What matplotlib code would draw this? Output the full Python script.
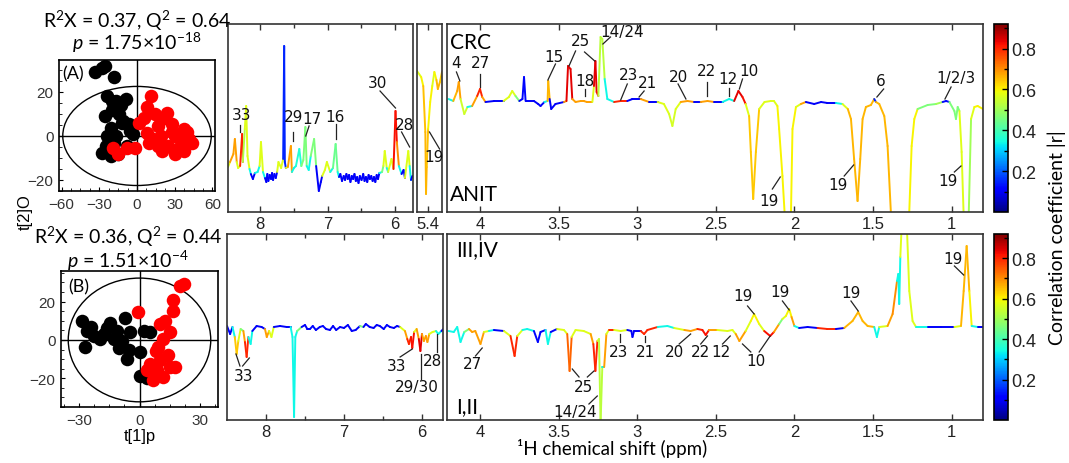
import numpy as np
import matplotlib.pyplot as plt
from matplotlib.collections import LineCollection
from matplotlib.patches import Ellipse
from matplotlib.colors import Normalize
from matplotlib.cm import ScalarMappable
from matplotlib.ticker import FixedLocator, FormatStrFormatter

plt.rcParams['font.family'] = ['Liberation Sans', 'DejaVu Sans']
plt.rcParams['mathtext.fontset'] = 'custom'
plt.rcParams['mathtext.rm'] = 'Lato'
plt.rcParams['mathtext.it'] = 'Lato:italic'

# ---- score plots (OPLS-DA) ----
xa_black = [-33, -28, -25.5, -18, -23.6, -20, -9, -13, -16.7, -25.5, -14, -11, -6, -21, -23.6,
            -16.7, -5.5, -25, -18, -28, -21, -15, -8, -3, -12, -20]
ya_black = [29, 31, 32, 27, 18, 16, 16.7, 14, 16, 9, 10, 7, 5.3, 3.8, 0,
            0, 2.3, -4.5, -3, -7.6, -9, -8.3, -4.5, 0.8, 6, 12]
xa_red = [11, 8.3, 5.5, 1.4, 23.6, 16.7, 27.8, 37.5, 19.4, 30.5, 41.7, 9.7, 16.7, 25, 33,
          -19.4, -15, -8, -1.4, 8.3, 12.5, 30.5, 37.5, 22, 14, 40, 44, 28, 20, 35]
ya_red = [18, 13, 8, 6, 10.6, 4.5, 5.3, 3, 0, 0, -1.5, -3, -4.5, -4.5, -5.3,
          -5.3, -8.3, -5.3, -5.3, 1.5, -1.5, -8.3, -6.8, 8, 10, 2, -3, 2, -7, -2]

xb_black = [-28.5, -26, -22.7, -27, -14.5, -11, -7, -12.8, -8.7, -4.6, -5.4, -6.3, 0.3, -17.8,
            2, 5.3, 0.3, 3.6, -19.4, -24, -16, -10]
yb_black = [10, 4.8, 2.2, -3.8, 9, 4.8, 11.7, 0.5, -0.3, 4, -5.5, -9.8, -6.4, 3.1,
            4.8, 4, -19, -20, 0.5, 7, 6, -4]
xb_red = [-0.5, 20, 22, 16.8, 16.8, 12.7, 10.2, 15, 11.9, 9.4, 10.2, 5.3, 3.6, 8.6, 15, 17.6,
          6.9, 11.9, 14, 8]
yb_red = [14.8, 28.4, 29, 21, 15, 10, 8.3, 4, 0.5, -3.8, -10.7, -12.4, -15.9, -15.9, -14, -14,
          -21, -19.3, -8, -6]

# ---- loading spectra: ppm, intensity (a.u.), |r| ----
ppm_crc_aro = [8.48, 8.45, 8.40, 8.378, 8.35, 8.33, 8.30, 8.27, 8.26, 8.23, 8.21, 8.19, 8.16, 8.14,
               8.11, 8.08, 8.04, 8.01, 7.99, 7.96, 7.93, 7.91, 7.895, 7.88, 7.86, 7.84, 7.825,
               7.81, 7.79, 7.77, 7.75, 7.73, 7.69,
               7.66, 7.645, 7.635, 7.62, 7.59, 7.545, 7.53, 7.50, 7.47, 7.42, 7.39, 7.36, 7.33,
               7.31, 7.28, 7.25, 7.20, 7.17, 7.13, 7.10, 7.08, 7.04, 7.01, 6.96, 6.92, 6.88, 6.85,
               6.83, 6.81, 6.785, 6.76, 6.74, 6.72, 6.70, 6.68, 6.66, 6.64, 6.62, 6.60, 6.58,
               6.56, 6.54, 6.52, 6.495, 6.47, 6.45, 6.43, 6.41, 6.39, 6.37, 6.35, 6.33, 6.31,
               6.29, 6.27, 6.25, 6.23, 6.19, 6.17, 6.15, 6.12, 6.10, 6.05, 6.02, 5.99, 5.97,
               5.94, 5.90, 5.87, 5.85, 5.80, 5.78, 5.76, 5.74]
int_crc_aro = [45, 50, 58, 73, 50, 44, 46, 78, 50, 83, 106, 56, 43, 38,
               33, 39, 40, 46, 70, 40, 34, 30, 38, 31, 37, 33, 39,
               32, 38, 34, 40, 50, 44,
               53, 166, 50, 44, 45, 66, 40, 44, 46, 63, 46, 52, 85,
               46, 42, 56, 73, 46, 21, 30, 36, 42, 50, 40, 44, 68, 40,
               35, 38, 31, 36, 32, 38, 33, 37, 30, 36, 33, 38, 31,
               35, 29, 36, 32, 38, 31, 35, 30, 37, 33, 36, 31, 35,
               30, 37, 33, 39, 40, 46, 61, 44, 40, 53, 43, 101, 70,
               46, 38, 42, 34, 61, 46, 32, 36]
r_crc_aro = [0.57, 0.57, 0.68, 0.68, 0.57, 0.34, 0.57, 0.8, 0.68, 0.52, 0.57, 0.57, 0.34, 0.34,
             0.1, 0.1, 0.34, 0.34, 0.57, 0.34, 0.1, 0.1, 0.1, 0.1, 0.1, 0.1, 0.1,
             0.1, 0.1, 0.1, 0.12, 0.57, 0.34,
             0.57, 0.15, 0.15, 0.34, 0.57, 0.68, 0.34, 0.34, 0.34, 0.36, 0.34, 0.46, 0.46,
             0.34, 0.34, 0.34, 0.46, 0.34, 0.1, 0.1, 0.34, 0.57, 0.57, 0.34, 0.34, 0.44, 0.34,
             0.1, 0.1, 0.1, 0.1, 0.1, 0.1, 0.1, 0.1, 0.1, 0.1, 0.1, 0.1, 0.1,
             0.1, 0.1, 0.1, 0.1, 0.1, 0.1, 0.1, 0.1, 0.1, 0.1, 0.1, 0.1, 0.1,
             0.1, 0.1, 0.1, 0.12, 0.34, 0.46, 0.57, 0.34, 0.1, 0.57, 0.34, 0.82, 0.7,
             0.34, 0.1, 0.1, 0.1, 0.57, 0.34, 0.1, 0.1]

ppm_crc_mid = [5.56, 5.50, 5.47, 5.44, 5.43, 5.42, 5.40, 5.37, 5.34, 5.31, 5.28, 5.26, 5.23, 5.20]
int_crc_mid = [141, 135, 126, 80, 18, 45, 83, 110, 126, 140, 132, 123, 130, 140]
r_crc_mid = [0.57, 0.57, 0.6, 0.65, 0.66, 0.65, 0.6, 0.6, 0.57, 0.57, 0.6, 0.66, 0.64, 0.57]

ppm_crc_ali = [4.20, 4.17, 4.145, 4.135, 4.124, 4.10, 4.08, 4.05, 4.018, 4.00, 3.986, 3.965, 3.91,
               3.85, 3.816, 3.795, 3.774, 3.75, 3.73, 3.72, 3.71, 3.657, 3.63, 3.615, 3.59, 3.57,
               3.566, 3.557, 3.547, 3.52, 3.466, 3.45, 3.44, 3.424, 3.413, 3.392, 3.36, 3.34, 3.32,
               3.285, 3.275, 3.266, 3.258, 3.247, 3.233, 3.222, 3.207, 3.19, 3.147, 3.105, 3.063,
               3.03, 2.978, 2.925, 2.87, 2.83, 2.797, 2.776, 2.755, 2.723, 2.68, 2.638, 2.596,
               2.553, 2.51, 2.457, 2.415, 2.383, 2.356, 2.33, 2.31, 2.288, 2.277, 2.262, 2.245,
               2.224, 2.19, 2.15, 2.13, 2.108, 2.097, 2.076, 2.061, 2.022, 2.012, 1.99, 1.959,
               1.927, 1.874, 1.83, 1.79, 1.736, 1.694, 1.66, 1.64, 1.62, 1.598, 1.581, 1.566,
               1.545, 1.513, 1.492, 1.481, 1.46, 1.428, 1.407, 1.385, 1.27, 1.254, 1.237, 1.216,
               1.152, 1.099, 1.057, 1.035, 1.014, 0.982, 0.972, 0.961, 0.95, 0.936, 0.923, 0.891,
               0.876, 0.855, 0.834, 0.80]
int_crc_ali = [113, 111, 121, 130, 113, 98, 105, 106, 116, 123, 115, 110, 111,
               111, 115, 121, 116, 111, 113, 135, 111, 111, 108, 106, 110, 111,
               131, 113, 103, 108, 110, 111, 146, 143, 113, 110, 111, 111, 110,
               110, 126, 151, 120, 116, 175, 173, 133, 113, 110, 111, 111,
               113, 113, 110, 110, 108, 98, 86, 103, 110, 111, 110, 110,
               111, 110, 110, 113, 111, 121, 115, 108, 96, 60, 13, 60,
               103, 110, 111, 111, 106, 83, 36, -4, -4, 83, 105, 108,
               110, 108, 110, 109, 109, 108, 103, 93, 53, 11, 53, 93,
               105, 107, 113, 110, 108, 96, 66, -4, -4, 66, 93, 103,
               107, 108, 110, 111, 110, 101, 93, 105, 101, 60, -4, -4,
               93, 105, 106, 103]
r_crc_ali = [0.34, 0.34, 0.66, 0.68, 0.57, 0.55, 0.34, 0.1, 0.68, 0.8, 0.68, 0.34, 0.1,
             0.1, 0.57, 0.57, 0.46, 0.1, 0.1, 0.12, 0.1, 0.1, 0.1, 0.1, 0.1, 0.34,
             0.66, 0.57, 0.1, 0.1, 0.1, 0.68, 0.84, 0.84, 0.68, 0.34, 0.68, 0.68, 0.68,
             0.57, 0.57, 0.84, 0.82, 0.46, 0.53, 0.53, 0.34, 0.34, 0.57, 0.8, 0.57,
             0.1, 0.68, 0.1, 0.57, 0.57, 0.57, 0.56, 0.57, 0.68, 0.68, 0.1, 0.57,
             0.68, 0.1, 0.1, 0.34, 0.68, 0.84, 0.82, 0.34, 0.57, 0.64, 0.64, 0.64,
             0.57, 0.66, 0.57, 0.34, 0.57, 0.6, 0.6, 0.6, 0.6, 0.6, 0.57, 0.68,
             0.1, 0.1, 0.34, 0.1, 0.1, 0.34, 0.57, 0.66, 0.66, 0.66, 0.66, 0.66,
             0.66, 0.66, 0.15, 0.15, 0.66, 0.66, 0.66, 0.66, 0.6, 0.6, 0.6, 0.46,
             0.46, 0.5, 0.34, 0.12, 0.34, 0.46, 0.46, 0.34, 0.46, 0.57, 0.57, 0.5,
             0.57, 0.6, 0.66, 0.6]

ppm_anit_aro = [8.50, 8.46, 8.43, 8.40, 8.376, 8.355, 8.325, 8.29, 8.27, 8.248, 8.226, 8.197,
                8.175, 8.12, 8.056, 8.013, 7.99, 7.96, 7.93, 7.90, 7.82, 7.735, 7.684, 7.66,
                7.64, 7.624, 7.60, 7.543, 7.50, 7.47, 7.436, 7.40, 7.36, 7.31, 7.27, 7.23, 7.18,
                7.14, 7.10, 7.05, 7.00, 6.95, 6.90, 6.85, 6.795, 6.75, 6.72, 6.67, 6.62, 6.58,
                6.54, 6.49, 6.45, 6.41, 6.36, 6.32, 6.28, 6.218, 6.188, 6.167, 6.14, 6.124, 6.10,
                6.068, 6.04, 6.02, 6.0, 5.975, 5.95, 5.93, 5.906, 5.864, 5.82, 5.79, 5.75, 5.727]
int_anit_aro = [94, 86, 93, 83, 66, 79, 91, 89, 78, 63, 83, 76,
                89, 94, 93, 91, 83, 89, 83, 93, 94, 93, 93, 83,
                3, 83, 89, 93, 95, 91, 91, 94, 90, 93, 94, 91, 90,
                94, 90, 93, 92, 95, 89, 90, 94, 93, 96, 93, 92, 95,
                94, 91, 95, 93, 92, 94, 93, 89, 81, 76, 83, 72, 88,
                91, 81, 69, 86, 79, 84, 78, 86, 88, 89, 86, 89, 91]
r_anit_aro = [0.1, 0.1, 0.1, 0.34, 0.64, 0.57, 0.1, 0.46, 0.68, 0.8, 0.46, 0.34,
              0.1, 0.1, 0.1, 0.1, 0.68, 0.1, 0.57, 0.1, 0.1, 0.1, 0.1, 0.34,
              0.34, 0.34, 0.46, 0.1, 0.1, 0.1, 0.1, 0.12, 0.1, 0.1, 0.12, 0.1, 0.1,
              0.1, 0.1, 0.1, 0.12, 0.1, 0.1, 0.1, 0.46, 0.1, 0.1, 0.1, 0.12, 0.1,
              0.1, 0.1, 0.12, 0.1, 0.1, 0.1, 0.1, 0.57, 0.68, 0.8, 0.68, 0.82, 0.57,
              0.46, 0.68, 0.84, 0.57, 0.68, 0.8, 0.68, 0.57, 0.57, 0.46, 0.34, 0.1, 0.1]

ppm_anit_ali = [4.20, 4.167, 4.145, 4.124, 4.10, 4.07, 4.05, 4.03, 3.997, 3.975, 3.944, 3.912,
                3.848, 3.806, 3.78, 3.763, 3.73, 3.70, 3.657, 3.632, 3.615, 3.583, 3.568, 3.55,
                3.51, 3.466, 3.445, 3.43, 3.417, 3.392, 3.34, 3.296, 3.279, 3.266, 3.253, 3.243,
                3.233, 3.222, 3.21, 3.196, 3.18, 3.147, 3.105, 3.063, 3.037, 3.03, 3.02, 2.978,
                2.956, 2.935, 2.87, 2.808, 2.765, 2.70, 2.66, 2.617, 2.585, 2.564, 2.543, 2.49,
                2.426, 2.394, 2.373, 2.35, 2.31, 2.277, 2.256, 2.224, 2.192, 2.154, 2.13, 2.097,
                2.076, 2.054, 2.033, 2.018, 2.0, 1.97, 1.916, 1.853, 1.79, 1.736, 1.683, 1.63,
                1.594, 1.566, 1.534, 1.492, 1.475, 1.46, 1.407, 1.375, 1.347, 1.339, 1.333, 1.326,
                1.318, 1.284, 1.269, 1.248, 1.226, 1.152, 1.067, 0.982, 0.94, 0.923, 0.904, 0.887,
                0.872, 0.834, 0.80]
int_anit_ali = [89, 88, 93, 78, 88, 91, 88, 89, 76, 88, 89, 90,
                89, 84, 64, 84, 90, 91, 89, 78, 88, 90, 76, 88,
                91, 90, 86, 49, 83, 90, 89, 86, 76, 49, 79, 81,
                -4, 53, 53, 86, 90, 90, 89, 90, 89, 83, 89, 89,
                86, 90, 93, 94, 92, 90, 89, 91, 90, 85, 90, 90,
                89, 90, 86, 79, 89, 99, 106, 96, 89, 84, 88, 96,
                101, 104, 111, 103, 94, 92, 93, 92, 91, 91, 92, 99,
                108, 99, 94, 93, 83, 93, 94, 106, 139, 146, 116, 163,
                192, 192, 129, 99, 93, 93, 93, 93, 94, 129, 174, 129,
                94, 93, 93]
r_anit_ali = [0.34, 0.34, 0.1, 0.34, 0.46, 0.68, 0.68, 0.57, 0.68, 0.57, 0.34, 0.1,
              0.1, 0.57, 0.8, 0.57, 0.34, 0.1, 0.34, 0.12, 0.1, 0.34, 0.34, 0.1,
              0.34, 0.57, 0.57, 0.74, 0.57, 0.57, 0.57, 0.57, 0.68, 0.8, 0.57, 0.34,
              0.53, 0.34, 0.68, 0.57, 0.8, 0.57, 0.57, 0.57, 0.1, 0.1, 0.1, 0.8,
              0.8, 0.8, 0.34, 0.34, 0.57, 0.57, 0.68, 0.57, 0.8, 0.82, 0.68, 0.57,
              0.57, 0.57, 0.57, 0.68, 0.68, 0.57, 0.6, 0.57, 0.68, 0.82, 0.68, 0.57,
              0.46, 0.57, 0.6, 0.68, 0.34, 0.1, 0.1, 0.34, 0.8, 0.1, 0.1, 0.66,
              0.66, 0.66, 0.66, 0.34, 0.34, 0.34, 0.57, 0.68, 0.7, 0.34, 0.34, 0.34,
              0.57, 0.57, 0.57, 0.57, 0.34, 0.1, 0.1, 0.1, 0.57, 0.66, 0.66, 0.6,
              0.34, 0.1, 0.34]

cmap = plt.get_cmap('jet')
norm = Normalize(0, 0.92)

W, H = 1069, 464
fig = plt.figure(figsize=(W / 100, H / 100), dpi=100)


def box(x0, y0, x1, y1):
    # pixel box -> figure axes
    return fig.add_axes([x0 / W, 1 - y1 / H, (x1 - x0) / W, (y1 - y0) / H])


def colored_line(ax, x, y, r, base):
    x = np.asarray(x, float)
    y = np.asarray(y, float)
    r = np.asarray(r, float)
    pts = np.column_stack([x, y])
    segs = np.stack([pts[:-1], pts[1:]], axis=1)
    far = np.abs(y[1:] - base) > np.abs(y[:-1] - base)
    c = np.where(far, r[1:], r[:-1])
    lc = LineCollection(segs, cmap=cmap, norm=norm, linewidths=1.4, capstyle='round',
                        joinstyle='round')
    lc.set_array(c)
    ax.add_collection(lc)


def style_spec(ax, xlim, ylim, major, minor=None):
    ax.set_xlim(*xlim)
    ax.set_ylim(*ylim)
    ax.set_yticks([])
    ax.xaxis.set_major_locator(FixedLocator(major))
    if minor:
        ax.xaxis.set_minor_locator(FixedLocator(minor))
    ax.xaxis.set_major_formatter(FormatStrFormatter('%g'))
    ax.tick_params(axis='x', which='both', direction='in', top=True, bottom=True,
                   length=4, width=1, color='#333333', labelsize=12, pad=3,
                   labelcolor='#222222')
    ax.tick_params(axis='x', which='minor', length=3)
    for s in ax.spines.values():
        s.set_linewidth(1.2)
        s.set_color('#333333')


def annotate(ax, items, fs=11):
    for lab, tx, ty, lines in items:
        ax.text(tx, ty, lab, ha='center', va='center', fontsize=fs, color='#111111',
                family=['DejaVu Sans'], zorder=5)
        for x1, y1, x2, y2 in lines:
            ax.plot([x1, x2], [y1, y2], color='#222222', lw=0.9, zorder=4)


# ---- score plots ----
def score_plot(ax, xb, yb, xr, yr, xlim, ylim, ell, xticks, tag, tagpos):
    ax.add_patch(Ellipse((0, 0), 2 * ell[0], 2 * ell[1], fill=False, lw=1, ec='k'))
    ax.axhline(0, color='k', lw=1)
    ax.axvline(0, color='k', lw=1)
    ax.scatter(xb, yb, s=95, c='k', zorder=3, linewidths=0)
    ax.scatter(xr, yr, s=95, c='red', zorder=3, linewidths=0)
    ax.set_xlim(*xlim)
    ax.set_ylim(*ylim)
    ax.set_xticks(xticks)
    ax.set_yticks([-20, 0, 20])
    ax.tick_params(direction='in', length=3, labelsize=11, labelcolor='#333333', pad=4)
    ax.minorticks_on()
    ax.tick_params(which='minor', direction='in', length=2)
    ax.text(tagpos[0], tagpos[1], tag, fontsize=13, ha='center', va='center',
            family=['Lato', 'DejaVu Sans'], zorder=4)
    for s in ax.spines.values():
        s.set_linewidth(1.2)


axA = box(59, 61, 215, 192)
score_plot(axA, xa_black, ya_black, xa_red, ya_red, (-62, 62), (-25, 34.5), (59, 22.5),
           [-60, -30, 0, 30, 60], '(A)', (-51, 28.5))
axB = box(61, 272, 218, 408)
score_plot(axB, xb_black, yb_black, xb_red, yb_red, (-39, 39), (-35, 36), (35.4, 32.3),
           [-30, 0, 30], '(B)', (-30, 28))

cal = ['Lato', 'DejaVu Sans']
fig.text(137 / W, 1 - 21 / H, 'R$^2$X = 0.37, Q$^2$ = 0.64', ha='center', va='center',
         fontsize=14, family=cal)
fig.text(137 / W, 1 - 43 / H, '$p$ = 1.75×10$^{-18}$', ha='center', va='center',
         fontsize=14, family=cal)
fig.text(128 / W, 1 - 237 / H, 'R$^2$X = 0.36, Q$^2$ = 0.44', ha='center', va='center',
         fontsize=14, family=cal)
fig.text(128 / W, 1 - 261 / H, '$p$ = 1.51×10$^{-4}$', ha='center', va='center',
         fontsize=14, family=cal)
fig.text(25 / W, 1 - 212 / H, 't[2]O', rotation=90, ha='center', va='center', fontsize=12)
fig.text(140 / W, 1 - 437 / H, 't[1]p', ha='center', va='center', fontsize=12)

# ---- top row: CRC (up) vs ANIT (down) ----
ax1 = box(228, 25, 413, 213)
colored_line(ax1, ppm_crc_aro, int_crc_aro, r_crc_aro, 36)
style_spec(ax1, (8.48, 5.73), (0, 188), [8, 7, 6], [7.5, 6.5])
annotate(ax1, [
    ('33', 8.28, 98, [(8.295, 87, 8.295, 80)]),
    ('29', 7.505, 95, [(7.52, 80, 7.52, 71)]),
    ('17', 7.226, 93, [(7.275, 86, 7.324, 76)]),
    ('16', 6.883, 95, [(6.873, 88, 6.873, 73)]),
    ('30', 6.26, 130, [(6.22, 121, 5.99, 104)]),
    ('28', 5.853, 87, [(5.90, 80, 5.78, 65)]),
])

ax2 = box(417, 25, 442, 213)
colored_line(ax2, ppm_crc_mid, int_crc_mid, r_crc_mid, 140)
style_spec(ax2, (5.56, 5.2), (0, 188), [5.4])
annotate(ax2, [('19', 5.31, 55, [(5.38, 80, 5.235, 63)])])

ax3 = box(447, 25, 983, 213)
colored_line(ax3, ppm_crc_ali, int_crc_ali, r_crc_ali, 110)
style_spec(ax3, (4.21, 0.8), (0, 188), [4, 3.5, 3, 2.5, 2, 1.5, 1])
ax3.text(4.19, 170, 'CRC', fontsize=15, ha='left', va='center', family=cal)
ax3.text(4.19, 18, 'ANIT', fontsize=15, ha='left', va='center', family=cal)
annotate(ax3, [
    ('4', 4.15, 150, [(4.15, 140, 4.128, 131)]),
    ('27', 3.997, 150, [(3.997, 138, 3.997, 125)]),
    ('15', 3.53, 156, [(3.52, 148, 3.568, 132)]),
    ('25', 3.36, 171, [(3.392, 161, 3.434, 146), (3.335, 160, 3.27, 151)]),
    ('14/24', 3.095, 180, [(3.17, 175, 3.218, 168)]),
    ('18', 3.335, 131, [(3.335, 123, 3.335, 116)]),
    ('23', 3.056, 138, [(3.063, 128, 3.105, 112)]),
    ('21', 2.935, 130, [(2.956, 121, 2.988, 115)]),
    ('20', 2.74, 136, [(2.74, 128, 2.69, 113)]),
    ('22', 2.557, 141, [(2.553, 130, 2.553, 116)]),
    ('12', 2.42, 133, [(2.415, 124, 2.415, 116)]),
    ('10', 2.288, 141, [(2.33, 133, 2.35, 123)]),
    ('19', 2.16, 11, [(2.14, 23, 2.09, 35)]),
    ('19', 1.725, 28, [(1.683, 36, 1.623, 47)]),
    ('6', 1.45, 131, [(1.432, 123, 1.475, 115)]),
    ('1/2/3', 0.972, 135, [(1.003, 125, 1.042, 113)]),
    ('19', 1.02, 31, [(0.982, 40, 0.94, 46)]),
])

# ---- bottom row: III,IV (up) vs I,II (down) ----
ax4 = box(227, 235, 443, 421)
colored_line(ax4, ppm_anit_aro, int_anit_aro, r_anit_aro, 92)
style_spec(ax4, (8.5, 5.73), (0, 186), [8, 7, 6], [7.5, 6.5])
annotate(ax4, [
    ('33', 8.29, 44, [(8.334, 54, 8.385, 66), (8.30, 54, 8.214, 62)]),
    ('33', 6.33, 54, [(6.28, 63, 6.124, 71)]),
    ('28', 5.87, 59, [(5.812, 68, 5.812, 86)]),
    ('29/30', 6.06, 33, [(6.017, 41, 6.017, 66)]),
])

ax5 = box(447, 235, 983, 421)
colored_line(ax5, ppm_anit_ali, int_anit_ali, r_anit_ali, 92)
style_spec(ax5, (4.21, 0.8), (0, 186), [4, 3.5, 3, 2.5, 2, 1.5, 1])
ax5.text(4.15, 171, 'III,IV', fontsize=15, ha='left', va='center', family=cal)
ax5.text(4.15, 14, 'I,II', fontsize=15, ha='left', va='center', family=cal)
annotate(ax5, [
    ('27', 4.05, 56, [(4.029, 64, 3.986, 72)]),
    ('25', 3.339, 33, [(3.37, 43, 3.413, 51), (3.317, 43, 3.275, 49)]),
    ('14/24', 3.392, 8, [(3.307, 16, 3.254, 24)]),
    ('23', 3.116, 68, [(3.112, 78, 3.112, 86)]),
    ('21', 2.946, 68, [(2.952, 78, 2.952, 84)]),
    ('20', 2.765, 68, [(2.733, 76, 2.66, 86)]),
    ('22', 2.596, 68, [(2.596, 76, 2.553, 84)]),
    ('12', 2.468, 68, [(2.457, 76, 2.408, 84)]),
    ('10', 2.245, 59, [(2.277, 68, 2.33, 76), (2.224, 68, 2.154, 84)]),
    ('19', 2.33, 124, [(2.298, 114, 2.256, 106)]),
    ('19', 2.09, 128, [(2.076, 119, 2.033, 110)]),
    ('19', 1.64, 127, [(1.64, 119, 1.594, 109)]),
    ('19', 0.993, 161, [(0.982, 154, 0.923, 145)]),
])
fig.text(612 / W, 1 - 449 / H, '¹H chemical shift (ppm)', ha='center', va='center',
         fontsize=13.5, family=cal)

# ---- colorbars ----
sm = ScalarMappable(norm=norm, cmap=cmap)
for y0, y1 in [(25, 213), (235, 421)]:
    cax = box(994, y0, 1008, y1)
    cb = fig.colorbar(sm, cax=cax)
    cb.set_ticks([0.2, 0.4, 0.6, 0.8])
    cb.ax.yaxis.set_minor_locator(FixedLocator([0.1, 0.3, 0.5, 0.7, 0.9]))
    cb.ax.tick_params(which='both', direction='in', length=4, width=1, labelsize=13,
                      labelcolor='#222222', pad=2)
    cb.ax.tick_params(which='minor', length=3)
    cb.outline.set_linewidth(1.2)
fig.text(1057 / W, 1 - 238 / H, 'Correlation coefficient |r|', rotation=90, ha='center',
         va='center', fontsize=14, family=cal)

fig.savefig('out.png', dpi=100)
